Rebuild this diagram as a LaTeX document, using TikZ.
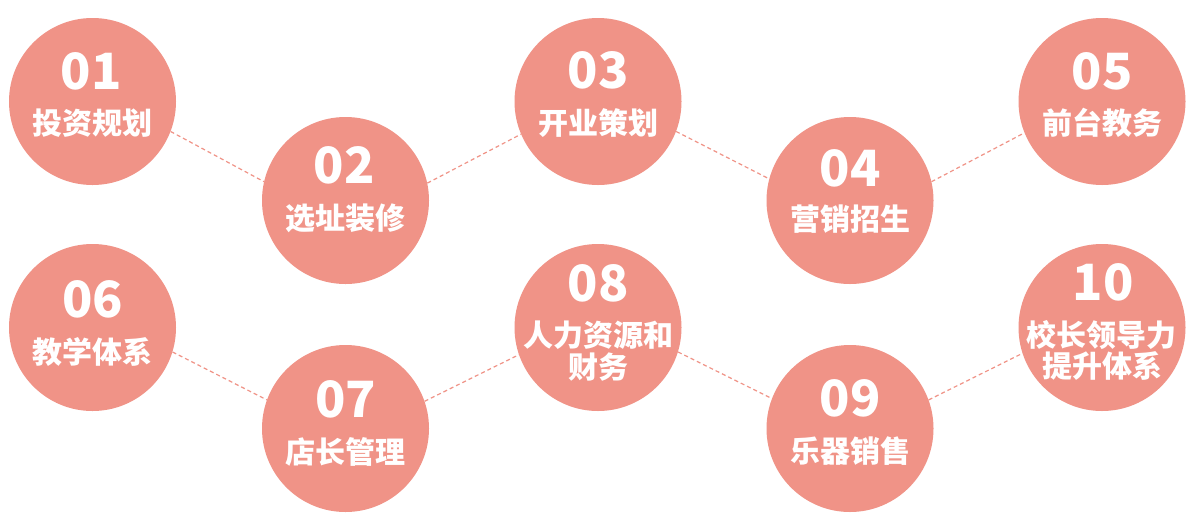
\documentclass[tikz,border=0pt]{standalone}
\usepackage{fontspec}
\newfontfamily\cjk{Noto Sans CJK SC}
\definecolor{salmon}{RGB}{240,147,135}
\tikzset{
  ball/.style={circle, fill=salmon, minimum size=167pt, inner sep=0pt},
  num/.style={text=white, inner sep=0pt, font=\cjk\bfseries\fontsize{50}{50}\selectfont},
  lbl/.style={text=white, inner sep=0pt, font=\cjk\bfseries\fontsize{30}{30}\selectfont},
  conn/.style={draw=salmon, line width=1.2pt, dash pattern=on 4pt off 3pt}
}
\begin{document}
\begin{tikzpicture}[x=1pt,y=-1pt]
\useasboundingbox[fill=white] (0,0) rectangle (1196,523);
% circles
\node[ball] (c01) at (92.5,101.5) {};
\node[ball] (c02) at (345.5,200.5) {};
\node[ball] (c03) at (598,101.5) {};
\node[ball] (c04) at (850,200.5) {};
\node[ball] (c05) at (1102,101.5) {};
\node[ball] (c06) at (92.5,327.5) {};
\node[ball] (c07) at (345.5,428.5) {};
\node[ball] (c08) at (598,327.5) {};
\node[ball] (c09) at (850,428.5) {};
\node[ball] (c10) at (1102,327.5) {};
% connectors
\draw[conn] (c01.-21) -- (c02.167);
\draw[conn] (c02.12) -- (c03.203);
\draw[conn] (c03.-21) -- (c04.165);
\draw[conn] (c04.13) -- (c05.202);
\draw[conn] (c06.-17) -- (c07.160);
\draw[conn] (c07.19) -- (c08.199);
\draw[conn] (c08.-17) -- (c09.159.5);
\draw[conn] (c09.20) -- (c10.198);
% texts
\node[num] (n01) at (91,71) {01};
\node[lbl] (t01) at (92.5,122.8) {投资规划};
\node[num] (n02) at (344,165.8) {02};
\node[lbl] (t02) at (345.5,218.3) {选址装修};
\node[num] (n03) at (598,70.5) {03};
\node[lbl] (t03) at (598,122.8) {开业策划};
\node[num] (n04) at (850,168.3) {04};
\node[lbl] (t04) at (850,219) {营销招生};
\node[num] (n05) at (1102,71) {05};
\node[lbl] (t05) at (1102,123.3) {前台教务};
\node[num] (n06) at (92.5,299) {06};
\node[lbl] (t06) at (92.5,351.7) {教学体系};
\node[num] (n07) at (345.5,399.3) {07};
\node[lbl] (t07) at (345.5,451.7) {店长管理};
\node[num] (n08) at (598,283.3) {08};
\node[lbl] (t08a) at (598,335) {人力资源和};
\node[lbl] (t08b) at (598,366.7) {财务};
\node[num] (n09) at (850,398.7) {09};
\node[lbl] (t09) at (850,450.8) {乐器销售};
\node[num] (n10) at (1103,282.5) {10};
\node[lbl] (t10a) at (1101.5,335.5) {校长领导力};
\node[lbl] (t10b) at (1102,365.7) {提升体系};
\end{tikzpicture}
\end{document}
